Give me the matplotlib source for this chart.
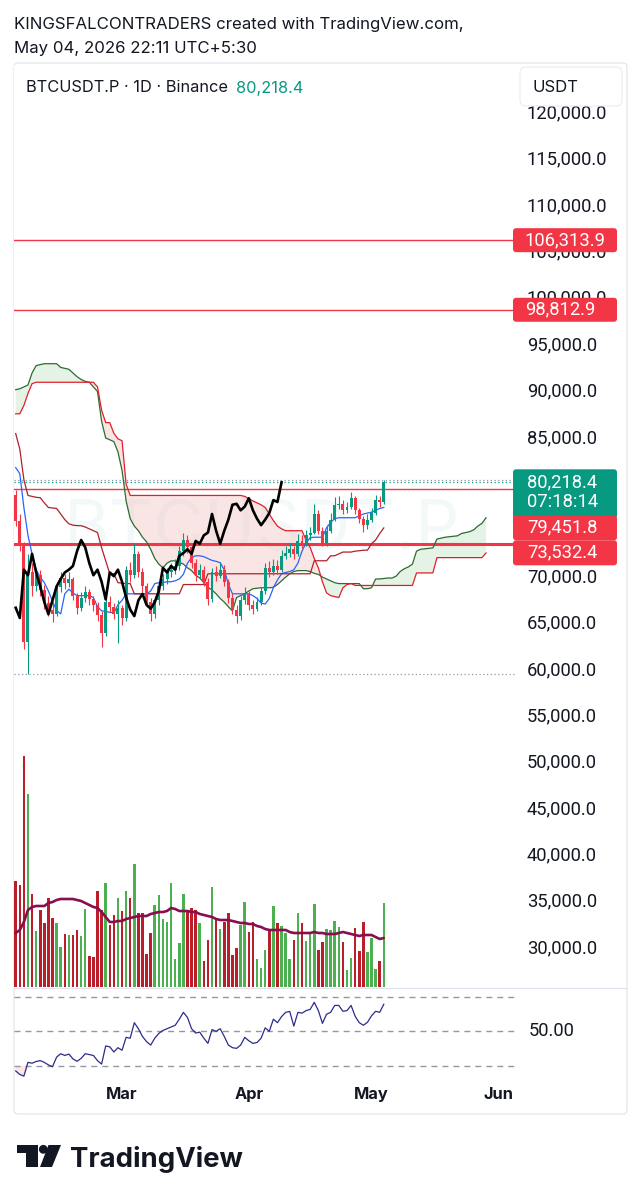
import numpy as np
import pandas as pd
import matplotlib
matplotlib.use("Agg")
import matplotlib.pyplot as plt
import matplotlib.dates as mdates
from matplotlib.patches import FancyBboxPatch, Polygon, Ellipse
from matplotlib.transforms import IdentityTransform, blended_transform_factory
from matplotlib.lines import Line2D

plt.rcParams['font.family'] = ['Inter', 'DejaVu Sans']
NUMFONT = ['Roboto', 'DejaVu Sans']

# ---------------- data ----------------
start_date = '2026-02-03'
symbol = 'BTCUSDT.P'

open_ = [78800, 76000, 73400, 63000, 70600, 69000, 70200, 68600, 67200, 66500,
         66000, 68900, 69900, 69400, 69800, 68000, 66700, 67800, 68400, 67600,
         67000, 65900, 64000, 67300, 66800, 66000, 66700, 65600, 70800, 70200,
         72500, 70500, 69000, 67300, 66000, 67500, 69000, 69800, 70500, 70800,
         71200, 72800, 74000, 73200, 71500, 70200, 70800, 69500, 67600, 70500,
         70100, 70800, 69500, 67800, 66500, 65800, 67500, 68200, 67000, 66600,
         67300, 68500, 71000, 70500, 71200, 70800, 72300, 72600, 73000, 72500,
         73900, 73600, 74500, 74800, 76800, 75000, 73600, 75000, 76200, 77800,
         77900, 77200, 77600, 78500, 77200, 76300, 75600, 76200, 76900, 78300,
         78100]
close = [76000, 73400, 63000, 70600, 69000, 70200, 68600, 67200, 66500, 66000,
         68900, 69900, 69400, 69800, 68000, 66700, 67800, 68400, 67600, 67000,
         65900, 64000, 67300, 66800, 66000, 66700, 65600, 70800, 70200, 72500,
         70500, 69000, 67300, 66000, 67500, 69000, 69800, 70500, 70800, 71200,
         72800, 74000, 73200, 71500, 70200, 70800, 69500, 67600, 70500, 70100,
         70800, 69500, 67800, 66500, 65800, 67500, 68200, 67000, 66600, 67300,
         68500, 71000, 70500, 71200, 70800, 72300, 72600, 73000, 72500, 73900,
         73600, 74500, 74800, 76800, 75000, 73600, 75000, 76200, 77800, 77900,
         77200, 77600, 78500, 77200, 76300, 75600, 76200, 76900, 78300, 78100,
         80218.4]
high = [79400, 76800, 73800, 72500, 71500, 71000, 70800, 69200, 68000, 67200,
        69500, 70600, 70300, 70500, 70000, 68300, 68400, 69000, 68700, 68000,
        67300, 66300, 67800, 68000, 67200, 67500, 67000, 71200, 71600, 73700,
        72800, 71000, 69400, 67800, 68000, 69500, 70300, 71000, 71500, 72000,
        73400, 74800, 74500, 73600, 72000, 71400, 71200, 69900, 71000, 71200,
        71600, 71300, 69800, 68300, 67000, 68000, 68900, 68500, 67500, 67900,
        68900, 71500, 71700, 71900, 71800, 72900, 73300, 73700, 73400, 74600,
        74500, 75100, 75400, 77900, 77200, 75400, 75600, 76900, 78600, 78700,
        78300, 78100, 79200, 78700, 77500, 76600, 76800, 77500, 78800, 78700,
        80450]
low = [75500, 72800, 62200, 59600, 68000, 68500, 68000, 66600, 65800, 65200,
       65800, 68400, 68700, 68900, 67500, 66000, 66300, 67300, 67000, 66300,
       65300, 62500, 63600, 66200, 65500, 62900, 64800, 65300, 69500, 69900,
       70000, 68400, 66800, 65300, 65600, 67000, 68600, 69300, 70000, 70300,
       70800, 72300, 72600, 71000, 69600, 69800, 69000, 67000, 67300, 69600,
       69900, 69000, 67200, 66000, 65100, 65400, 67100, 66500, 66000, 66300,
       67000, 68200, 70000, 70200, 70300, 70500, 71900, 72200, 71900, 72300,
       73100, 73300, 74000, 74600, 74700, 73300, 73400, 74800, 76000, 77300,
       76800, 76900, 77300, 76800, 75800, 74900, 75200, 75900, 76700, 77600,
       77900]
volume_k = [106, 102, 231, 193, 93, 56, 77, 64, 89, 69,
            64, 40, 53, 52, 52, 57, 51, 78, 31, 30,
            96, 77, 104, 62, 72, 89, 76, 96, 89, 123,
            74, 74, 33, 54, 82, 92, 68, 65, 104, 28,
            44, 93, 77, 79, 77, 64, 26, 47, 100, 67,
            58, 65, 74, 32, 39, 62, 85, 55, 65, 28,
            19, 37, 57, 81, 64, 61, 54, 28, 47, 74,
            64, 46, 53, 83, 37, 45, 58, 57, 66, 60,
            45, 17, 29, 59, 36, 65, 35, 49, 18, 26,
            84]
volume_ma = [54, 57, 65, 77, 80, 81, 81, 81, 84, 85,
             87, 88, 88, 88, 88, 87, 86, 84, 82, 80,
             79, 75, 70, 65, 65, 66, 66, 68, 69, 70,
             71, 71, 71, 73, 74, 75, 75, 76, 79, 78,
             76, 76, 76, 75, 75, 73, 72, 71, 70, 68,
             67, 67, 67, 66, 65, 64, 64, 63, 63, 61,
             60, 58, 57, 57, 57, 57, 57, 55, 54, 54,
             54, 54, 54, 55, 54, 54, 53, 53, 53, 54,
             55, 54, 53, 52, 51, 52, 52, 52, 50, 48,
             49]
tenkan = [81800, 81150, 77500, 74500, 72500, 70800, 70000, 69400, 68500, 67400,
          66400, 66040, 68200, 68700, 68300, 68000, 68000, 68000, 68000, 67800,
          66800, 66370, 66300, 66200, 66150, 67000, 67500, 68200, 68200, 68200,
          68200, 68200, 68200, 68500, 69300, 69400, 69400, 69500, 69500, 69600,
          69800, 70300, 71500, 72100, 72300, 72300, 72200, 72000, 71800, 71700,
          71550, 70800, 69200, 68200, 68200, 68200, 68200, 68200, 68000, 67700,
          67200, 67100, 67700, 68850, 69700, 70360, 70500, 70600, 70800, 71500,
          72800, 73700, 74250, 74300, 74300, 74300, 75300, 75900, 76300, 76400,
          76400, 76400, 76400, 76400, 76600, 76800, 76900, 77000, 77200, 77400,
          77500]
kijun = [85470, 83800, 80500, 78800, 78700, 78600, 78560, 78000, 77500, 77450,
         77400, 76800, 76200, 75750, 75600, 75550, 75540, 75400, 75200, 75000,
         74800, 73170, 71760, 70360, 70360, 69400, 69350, 69300, 69300, 68200,
         68200, 68200, 68200, 68200, 68200, 68200, 68200, 68200, 68200, 68200,
         68200, 69200, 69200, 69200, 69200, 69200, 69200, 70360, 70360, 70360,
         70360, 70360, 70360, 70360, 70360, 70360, 70360, 70360, 70360, 70360,
         70360, 70360, 70360, 70360, 70360, 70360, 70360, 70360, 70360, 70360,
         70360, 70360, 70360, 71760, 71760, 71760, 71760, 72300, 72300, 72500,
         72700, 72700, 72700, 72800, 72840, 72900, 72900, 73600, 74000, 74700,
         75300]
span_a = [90200, 90300, 90500, 90700, 92000, 92800, 92900, 93000, 93000, 93000,
          93000, 92600, 92500, 92400, 92000, 91600, 91300, 91100, 91000, 90500,
          90000, 86800, 85000, 84800, 84600, 83500, 81500, 78200, 76300, 75500,
          75000, 74300, 73800, 73000, 72000, 71400, 71000, 71500, 71750, 71750,
          71600, 71400, 71000, 70700, 70200, 69900, 69400, 68900, 68600, 68200,
          67700, 67300, 66800, 66350, 67800, 68000, 68200, 68500, 68750, 68800,
          68850, 68850, 68850, 68900, 69200, 69600, 70000, 70350, 70600, 70700,
          70700, 70700, 70600, 70400, 70300, 70000, 69800, 69600, 69400, 69300,
          69300, 69300, 69300, 69300, 69300, 68750, 68750, 68850, 69800, 69800,
          69850, 69900, 69900, 70100, 70600, 70900, 71100, 71400, 72800, 73000,
          73050, 73100, 73150, 74100, 74200, 74300, 74350, 74400, 74450, 74700,
          74800, 74900, 75100, 75500, 75800, 76400]
span_b = [87600, 87600, 88500, 89800, 90850, 91000, 91000, 91000, 91000, 91000,
          91000, 91000, 91000, 91000, 91000, 91000, 91000, 91000, 91000, 91000,
          90500, 88000, 86650, 86650, 85500, 84900, 84700, 80000, 78800, 78800,
          78800, 78800, 78800, 78800, 78800, 78800, 78800, 78800, 78800, 78800,
          78800, 78800, 78800, 78800, 78800, 78800, 78800, 78800, 78800, 78800,
          78800, 78800, 78800, 78800, 78800, 78800, 78700, 78450, 78200, 78000,
          77800, 77500, 76800, 76100, 75500, 75200, 75000, 75000, 75000, 75000,
          75000, 74000, 73200, 72000, 71000, 69500, 68300, 68000, 67900, 67800,
          68850, 69200, 69300, 69100, 69100, 69100, 69100, 69100, 69100, 69100,
          69100, 69100, 69100, 69100, 69100, 69100, 69100, 69100, 70450, 70450,
          70450, 70450, 70450, 72100, 72100, 72100, 72100, 72100, 72100, 72100,
          72100, 72100, 72100, 72100, 72100, 72600]
rsi = [27, 25, 24, 32, 31.5, 32.5, 33, 32, 30.5, 29.5,
       35, 37, 36, 36.8, 34, 32.6, 34.3, 37, 36.5, 36,
       33, 31, 41.5, 41, 38, 40.5, 39, 46.5, 46, 55,
       51.5, 47, 44, 42, 46, 48.8, 50.5, 51.5, 52.5, 53.5,
       57, 61, 58, 51.5, 49, 49.5, 46, 43, 51, 50,
       51.5, 47, 42, 40.5, 40.1, 42, 46.5, 44.5, 43, 43.5,
       46, 52, 50, 57, 55, 58.5, 61, 61.5, 53, 61,
       60.5, 62, 62.7, 66.8, 62, 54.6, 59.9, 61, 65, 65,
       61.6, 62, 65, 58.7, 55, 53.5, 55.2, 59, 61.6, 61,
       65.7]
lagging_shift = 25
levels_thin = [106313.9, 98812.9, 79451.8]
level_thick = 73532.4
rsi_levels = [70, 50, 30]
price_ticks = [30000, 35000, 40000, 45000, 50000, 55000, 60000, 65000, 70000,
               85000, 90000, 95000, 100000, 105000, 110000, 115000, 120000]
month_ticks = ['2026-03-01', '2026-04-01', '2026-05-01', '2026-06-01']
month_labels = ['Mar', 'Apr', 'May', 'Jun']

# ---------------- setup ----------------
close_a = np.array(close, float); open_a = np.array(open_, float)
high_a = np.array(high, float); low_a = np.array(low, float)
dates = pd.date_range(start_date, periods=len(close), freq='D')
cloud_dates = pd.date_range(start_date, periods=len(span_a), freq='D')
xd = mdates.date2num(dates)
xc = mdates.date2num(cloud_dates)

W, H = 642, 1200
fig = plt.figure(figsize=(W / 100, H / 100), dpi=100)
fig.patch.set_facecolor('white')

def rect(x0, y0, x1, y1):
    return [x0 / W, 1 - y1 / H, (x1 - x0) / W, (y1 - y0) / H]

GREEN = '#089981'; RED = '#F23645'; TXT = '#131722'
NUMSIZE = 13.2
PXL, PXR = 14, 515
DAY0_PX, PX_PER_DAY = 15.7, 4.09
xlim = (xd[0] + (PXL - DAY0_PX) / PX_PER_DAY, xd[0] + (PXR - DAY0_PX) / PX_PER_DAY)
MAIN_TOP, MAIN_BOT = 65, 987
P_AT_113, P_PER_PX = 120000, 107.78
ylim = (P_AT_113 - (MAIN_BOT - 113.2) * P_PER_PX, P_AT_113 + (113.2 - MAIN_TOP) * P_PER_PX)

axv = fig.add_axes(rect(PXL, MAIN_TOP, PXR, MAIN_BOT))
ax = fig.add_axes(rect(PXL, MAIN_TOP, PXR, MAIN_BOT))
axr = fig.add_axes(rect(PXL, 988, PXR, 1080))
axv.set_zorder(1); ax.set_zorder(2); axr.set_zorder(2)
ax.patch.set_alpha(0)
for a in (axv, ax, axr):
    a.set_xlim(*xlim)
    for s in a.spines.values():
        s.set_visible(False)
    a.set_yticks([])
    a.tick_params(length=0)
axv.set_xticks([]); ax.set_xticks([])
ax.set_ylim(*ylim)
axv.set_ylim(0, MAIN_BOT - MAIN_TOP)

# volume
up = close_a >= open_a
vcol = np.where(up, '#4CAF50', '#BA1E2A')
axv.bar(xd, volume_k, width=0.62, color=vcol, linewidth=0)
axv.plot(xd, volume_ma, color='#880E4F', lw=1.9, solid_capstyle='round')

# cloud
sa = np.array(span_a, float); sb = np.array(span_b, float)
ax.fill_between(xc, sa, sb, where=sa >= sb, interpolate=True, color='#A5D6A7', alpha=0.28, lw=0, zorder=1)
ax.fill_between(xc, sa, sb, where=sa < sb, interpolate=True, color='#EF9A9A', alpha=0.25, lw=0, zorder=1)

# watermark
ax.text(0.495, (MAIN_BOT - 532) / (MAIN_BOT - MAIN_TOP), symbol, transform=ax.transAxes,
        ha='center', va='center', fontsize=50, color=GREEN, alpha=0.05, zorder=0)

# horizontal levels
for lv in levels_thin:
    ax.axhline(lv, color=RED, lw=1.0, zorder=3)
ax.axhline(level_thick, color=RED, lw=2.2, zorder=3)
ax.axhline(high_a.max(), color='#9598A1', lw=0.9, ls=(0, (1, 2)), zorder=3)
ax.axhline(close_a[-1], color=GREEN, lw=0.9, ls=(0, (1, 2)), zorder=3)
ax.axhline(low_a.min(), color='#9598A1', lw=0.9, ls=(0, (1, 2)), zorder=3)

ax.plot(xc, sa, color='#2E6B2E', lw=0.9, zorder=4)
ax.plot(xc, sb, color='#E0202A', lw=0.9, zorder=4)
ax.plot(xd, tenkan, color='#2962FF', lw=0.9, zorder=4)
ax.plot(xd, kijun, color='#B0202A', lw=0.9, zorder=4)

# candles
ccol = np.where(up, GREEN, RED)
ax.vlines(xd, low_a, high_a, colors=ccol, lw=0.8, zorder=5)
body = close_a - open_a
body = np.where(np.abs(body) < 120, np.where(body >= 0, 120, -120), body)
ax.bar(xd, body, bottom=open_a, width=0.72, color=ccol, linewidth=0, zorder=6)

# lagging span
ax.plot(xd[:len(close) - lagging_shift], close_a[lagging_shift:], color='black', lw=1.9, zorder=7,
        solid_joinstyle='round')

# RSI
r = np.array(rsi, float)
axr.set_ylim(50 - (1080 - 1031.3) * 20 / 34.5, 50 + (1031.3 - 988) * 20 / 34.5)
for lv in rsi_levels:
    axr.axhline(lv, color='#9598A1', lw=1.0, ls=(0, (4.3, 3.6)))
axr.fill_between(xd, r, 30, where=r < 30, interpolate=True, color=RED, alpha=0.12, lw=0)
axr.plot(xd, r, color='#2C2C8C', lw=0.9)
axr.patch.set_alpha(0)
mt = mdates.date2num(pd.to_datetime(month_ticks))
axr.set_xticks(mt)
axr.set_xticklabels(month_labels, fontsize=11.8, fontweight='bold', color=TXT)
axr.tick_params(axis='x', pad=5, length=0)

# ---------------- price scale ----------------
trans = blended_transform_factory(fig.transFigure, ax.transData)
for p in price_ticks:
    ax.text(527 / W, p, f'{p:,.1f}', transform=trans, ha='left', va='center',
            fontsize=NUMSIZE, family=NUMFONT, color=TXT, clip_on=False, zorder=1)
transr = blended_transform_factory(fig.transFigure, axr.transData)
axr.text(529 / W, 50, '50.00', transform=transr, ha='left', va='center', fontsize=NUMSIZE,
         family=NUMFONT, color=TXT, clip_on=False)

def py(p):
    return H - ax.transData.transform((xd[0], p))[1]

def pbox(x0, y0, x1, y1, fc, ec='none', rs=3, z=10, lw=0):
    fig.add_artist(FancyBboxPatch((x0, H - y1), x1 - x0, y1 - y0,
                                  boxstyle=f'round,pad=0,rounding_size={rs}',
                                  transform=IdentityTransform(), fc=fc, ec=ec, lw=lw, zorder=z))

def ftxt(x, y, s, **kw):
    fig.text(x / W, 1 - y / H, s, **kw)

for lv in levels_thin[:2]:
    yc = py(lv)
    pbox(513, yc - 12, 617, yc + 12, RED)
    ftxt(525, yc, f'{lv:,.1f}', ha='left', va='center', fontsize=NUMSIZE, family=NUMFONT, color='white', zorder=11)
yc = py(close_a[-1])
pbox(513, yc - 13, 617, yc + 36, GREEN)
ftxt(527, yc, f'{close_a[-1]:,.1f}', ha='left', va='center', fontsize=NUMSIZE, family=NUMFONT, color='white', zorder=11)
ftxt(527, yc + 20, '07:18:14', ha='left', va='center', fontsize=NUMSIZE, family=NUMFONT, color='white', zorder=11)
pbox(513, yc + 33, 617, yc + 58, RED)
ftxt(527, yc + 45.5, f'{levels_thin[2]:,.1f}', ha='left', va='center', fontsize=NUMSIZE, family=NUMFONT, color='white', zorder=12)
pbox(513, yc + 58, 617, yc + 83, RED)
ftxt(527, yc + 70.5, f'{level_thick:,.1f}', ha='left', va='center', fontsize=NUMSIZE, family=NUMFONT, color='white', zorder=12)

# USDT button
pbox(520, 67, 622, 106, 'white', ec='#E9ECF2', rs=6, z=10, lw=0.8)
ftxt(533, 87, 'USDT', ha='left', va='center', fontsize=12, color=TXT, zorder=11)

# frame and separator
pbox(14, 63, 627, 1114, 'none', ec='#E0E3EB', rs=4, z=0.5, lw=0.8)
fig.add_artist(Line2D([PXL / W, 627 / W], [1 - 988 / H, 1 - 988 / H], color='#E0E3EB', lw=0.8))

# header texts
ftxt(14, 24, 'KINGSFALCONTRADERS created with TradingView.com,', ha='left', va='center', fontsize=12.1, color=TXT)
ftxt(14, 48, 'May 04, 2026 22:11 UTC+5:30', ha='left', va='center', fontsize=12.1, color=TXT)
ftxt(26, 88, f'{symbol} · 1D · Binance', ha='left', va='center', fontsize=11.8, color=TXT)
ftxt(236, 88, f'{close_a[-1]:,.1f}', ha='left', va='center', fontsize=11.8, color=GREEN)

# logo
def fpx(pts):
    return [(x / W, 1 - y / H) for x, y in pts]
fig.add_artist(Polygon(fpx([(17, 1145), (38, 1145), (38, 1167), (26, 1167), (26, 1153), (17, 1153)]),
                       closed=True, transform=fig.transFigure, fc='#131722', ec='none'))
fig.add_artist(Ellipse((43.3 / W, 1 - 1149.3 / H), 8.8 / W, 8.8 / H, transform=fig.transFigure,
                       fc='#131722', ec='none'))
fig.add_artist(Polygon(fpx([(48.5, 1145), (61, 1145), (52, 1167), (40, 1167)]),
                       closed=True, transform=fig.transFigure, fc='#131722', ec='none'))
ftxt(70, 1167, 'TradingView', ha='left', va='baseline', fontsize=19.8, fontweight='bold', color='#131722')

fig.savefig('out.png', dpi=100, facecolor='white')
